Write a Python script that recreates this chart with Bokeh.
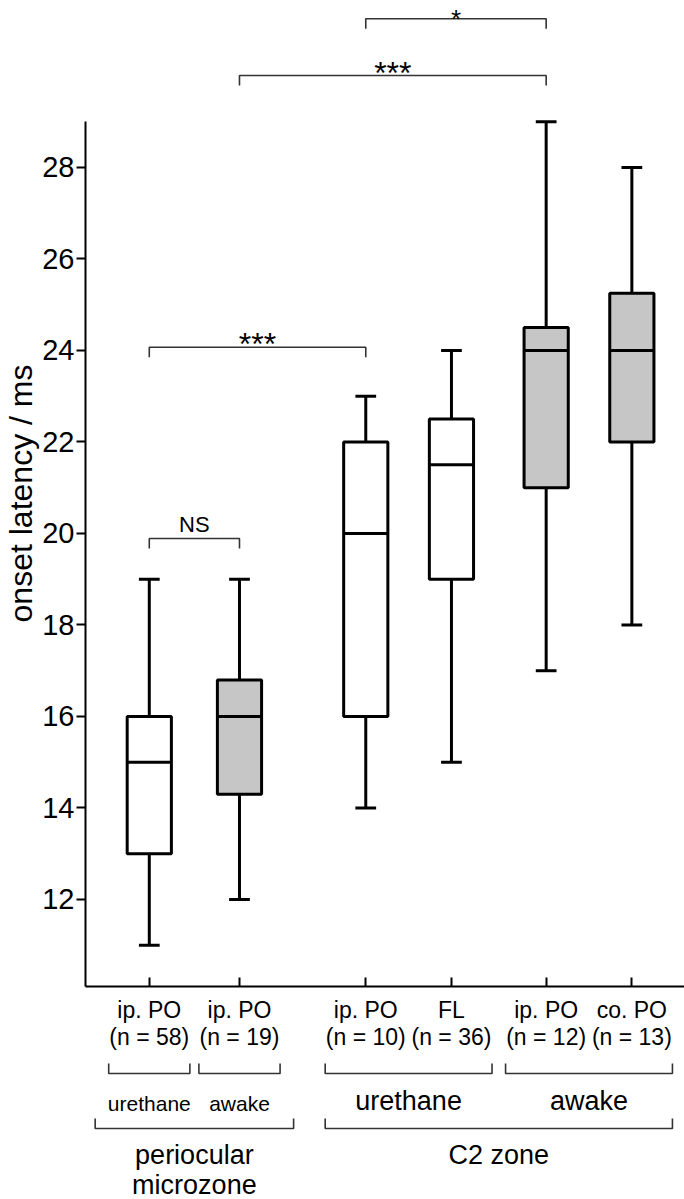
from bokeh.plotting import figure
from bokeh.layouts import column
from bokeh.models import Range1d, FixedTicker, ColumnDataSource
from bokeh.core.properties import value
from bokeh.embed import file_html
from bokeh.resources import INLINE

# ---------------- data ----------------
conditions = ["ip. PO", "ip. PO", "ip. PO", "FL", "ip. PO", "co. PO"]
n_values = [58, 19, 10, 36, 12, 13]
states = ["urethane", "awake", "urethane", "urethane", "awake", "awake"]
zones = ["periocular\nmicrozone", "periocular\nmicrozone", "C2 zone", "C2 zone", "C2 zone", "C2 zone"]
whisker_low = [11.0, 12.0, 14.0, 15.0, 17.0, 18.0]
q1 = [13.0, 14.3, 16.0, 19.0, 21.0, 22.0]
medians = [15.0, 16.0, 20.0, 21.5, 24.0, 24.0]
q3 = [16.0, 16.8, 22.0, 22.5, 24.5, 25.25]
whisker_high = [19.0, 19.0, 23.0, 24.0, 29.0, 28.0]
y_ticks = [12, 14, 16, 18, 20, 22, 24, 26, 28]
# significance comparisons: (index a, index b, label)
comparisons = [(0, 1, "NS"), (0, 2, "***"), (1, 4, "***"), (2, 4, "*")]

# ---------------- layout ----------------
positions = [1.0, 2.0, 3.4, 4.35, 5.4, 6.35]
comp_levels = [19.89, 24.07, 30.01, 31.25]
FONT = "Liberation Sans"
GRAY = "#c6c6c6"
BR = "#333333"
box_w = 0.49
cap_w = 0.23
W = 684
LEFT = 83
FRAME_H = 986
MAIN_H = 1052
SUB_H = 1199 - MAIN_H

x_range = Range1d(0.2928, 6.9337)
p = figure(width=W, height=MAIN_H, x_range=x_range, y_range=Range1d(10.098, 31.65),
           output_backend="svg", toolbar_location=None, tools="",
           min_border_left=LEFT, min_border_right=0, min_border_top=0,
           min_border_bottom=MAIN_H - FRAME_H)
p.outline_line_color = None
p.xgrid.visible = False
p.ygrid.visible = False
p.background_fill_color = "white"
p.border_fill_color = "white"

fills = [GRAY if s == "awake" else "white" for s in states]
src = ColumnDataSource(dict(x=positions, lo=whisker_low, q1=q1, med=medians, q3=q3, hi=whisker_high,
                            fill=fills,
                            xl=[x - box_w / 2 for x in positions], xr=[x + box_w / 2 for x in positions],
                            cl=[x - cap_w / 2 for x in positions], cr=[x + cap_w / 2 for x in positions]))
lw = 3
p.segment(x0="x", y0="q3", x1="x", y1="hi", source=src, line_color="black", line_width=lw)
p.segment(x0="x", y0="lo", x1="x", y1="q1", source=src, line_color="black", line_width=lw)
p.segment(x0="cl", y0="hi", x1="cr", y1="hi", source=src, line_color="black", line_width=lw)
p.segment(x0="cl", y0="lo", x1="cr", y1="lo", source=src, line_color="black", line_width=lw)
p.vbar(x="x", width=box_w, bottom="q1", top="q3", source=src, fill_color="fill",
       line_color="black", line_width=lw)
p.segment(x0="xl", y0="med", x1="xr", y1="med", source=src, line_color="black", line_width=lw)

# significance brackets
leg = 10 / 45.75
for (a, b, lab), lvl in zip(comparisons, comp_levels):
    xa, xb = positions[a], positions[b]
    p.line([xa, xa, xb, xb], [lvl - leg, lvl, lvl, lvl - leg], line_color=BR, line_width=1.6)
    if lab == "NS":
        size, off = "22px", -14
    elif lab == "*":
        size, off = "26px", 0
    else:
        size, off = "32px", -3
    p.text(x=[(xa + xb) / 2], y=[lvl], text=[lab], text_align="center", text_baseline="alphabetic",
           y_offset=off, text_font=value(FONT), text_font_size=size, text_color="black")

# axes
p.yaxis.ticker = FixedTicker(ticks=y_ticks)
p.yaxis.bounds = (10.098, 29.0)
p.yaxis.axis_label = "onset latency / ms"
p.yaxis.axis_label_text_font = FONT
p.yaxis.axis_label_text_font_style = "normal"
p.yaxis.axis_label_text_font_size = "32px"
p.yaxis.axis_label_text_color = "black"
p.yaxis.axis_label_standoff = 0
p.yaxis.major_label_text_font = FONT
p.yaxis.major_label_text_font_size = "29px"
p.yaxis.major_label_text_color = "black"
p.yaxis.major_label_standoff = 2
p.yaxis.major_tick_out = 9
p.yaxis.major_tick_in = 0
p.yaxis.minor_tick_line_color = None
p.yaxis.axis_line_width = 2
p.yaxis.major_tick_line_width = 2

p.xaxis.ticker = FixedTicker(ticks=positions)
p.xaxis.major_label_overrides = {x: f"{c}\n(n = {n})" for x, c, n in zip(positions, conditions, n_values)}
p.xaxis.major_label_text_font = FONT
p.xaxis.major_label_text_font_size = "23px"
p.xaxis.major_label_text_color = "black"
p.xaxis.major_label_text_line_height = 1.05
p.xaxis.major_label_standoff = 10
p.xaxis.major_tick_out = 0
p.xaxis.major_tick_in = 9
p.xaxis.minor_tick_line_color = None
p.xaxis.axis_line_width = 2
p.xaxis.major_tick_line_width = 2

# ---------------- group brackets below ----------------
# vertical coordinate: pixels below the x axis
p2 = figure(width=W, height=SUB_H, x_range=x_range, y_range=Range1d(213, 66),
            output_backend="svg", toolbar_location=None, tools="",
            x_axis_type=None, y_axis_type=None,
            min_border_left=LEFT, min_border_right=0, min_border_top=0, min_border_bottom=0)
p2.outline_line_color = None
p2.xgrid.visible = False
p2.ygrid.visible = False

pad = 0.45
# state sub-groups within each zone
sub_groups = []
for z in dict.fromkeys(zones):
    for s in dict.fromkeys([st for st, zz in zip(states, zones) if zz == z]):
        xs = [x for x, st, zz in zip(positions, states, zones) if st == s and zz == z]
        sub_groups.append((z, s, min(xs), max(xs)))
for z, s, x0, x1 in sub_groups:
    small = z.startswith("periocular")
    p2.line([x0 - pad, x0 - pad, x1 + pad, x1 + pad], [77, 87, 87, 77], line_color=BR, line_width=1.6)
    p2.text(x=[(x0 + x1) / 2], y=[117 if small else 114], text=[s], text_align="center",
            text_baseline="middle", text_font=value(FONT),
            text_font_size="21px" if small else "27px", text_color="black")

zone_pad = {"periocular\nmicrozone": 0.6, "C2 zone": 0.45}
for z in dict.fromkeys(zones):
    xs = [x for x, zz in zip(positions, zones) if zz == z]
    x0, x1 = min(xs) - zone_pad[z], max(xs) + zone_pad[z]
    p2.line([x0, x0, x1, x1], [132, 142, 142, 132], line_color=BR, line_width=1.6)
    p2.text(x=[(x0 + x1) / 2], y=[153], text=[z], text_align="center", text_baseline="top",
            text_font=value(FONT), text_font_size="27px", text_color="black", text_line_height=1.0)

layout = column(p, p2, spacing=0)
open("out.html", "w").write(file_html(layout, INLINE))
